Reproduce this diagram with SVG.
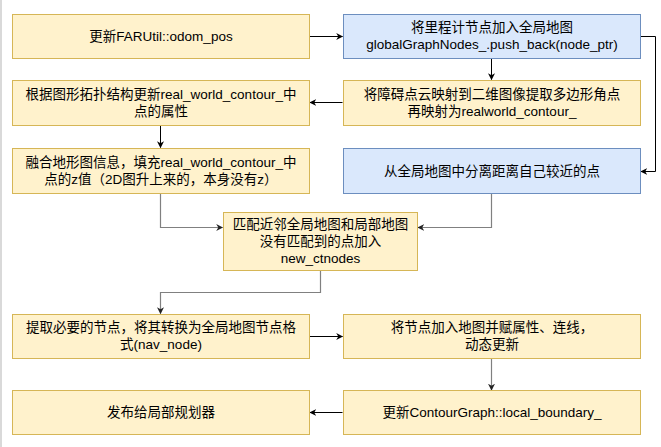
<svg xmlns="http://www.w3.org/2000/svg" width="661" height="447" viewBox="0 0 661 447">
<style>
.y{fill:#fff2cc;stroke:#d6b656;stroke-width:1}
.b{fill:#dae8fc;stroke:#6c8ebf;stroke-width:1}
text{font-family:"Liberation Sans","Noto Sans CJK SC",sans-serif;font-size:13.5px;fill:#000;text-anchor:middle}
.k{fill:none;stroke:#000;stroke-width:1;marker-end:url(#ak)}
.g{fill:none;stroke:#808080;stroke-width:1.2;marker-end:url(#ag)}
</style>
<defs>
<marker id="ak" viewBox="0 0 10 10" refX="9" refY="5" markerWidth="7" markerHeight="7" markerUnits="userSpaceOnUse" orient="auto"><path d="M0,0 L10,5 L0,10 L3,5 Z" fill="#000"/></marker>
<marker id="ag" viewBox="0 0 10 10" refX="9" refY="5" markerWidth="7" markerHeight="7" markerUnits="userSpaceOnUse" orient="auto"><path d="M0,0 L10,5 L0,10 L3,5 Z" fill="#222"/></marker>
</defs>
<rect x="0" y="0" width="661" height="447" fill="#fff"/>
<rect x="0" y="0" width="2" height="447" fill="#d9d9d9"/>
<g id="connectors">
<path class="k" d="M309.5,36.5 H342.5"/>
<path class="k" d="M640.5,36.5 H655.5 V171.5 H641"/>
<path class="k" d="M491.5,58.5 V79.5"/>
<path class="k" d="M342.5,102.5 H310"/>
<path class="k" d="M160.5,125.5 V147.5"/>
<path class="g" d="M160.5,193.5 V227.5 H222.5"/>
<path class="g" d="M491.5,193.5 V227.5 H418"/>
<path class="g" d="M320.5,271 V292.5 H160.5 V313.5"/>
<path class="k" d="M309.5,336.5 H342.5"/>
<path class="g" d="M491.5,359 V390"/>
<path class="k" d="M342.5,412.5 H310"/>
</g>
<g id="n1"><rect class="y" x="12.5" y="14.5" width="297" height="44"/><text x="161" y="41">更新FARUtil::odom_pos</text></g>
<g id="n2"><rect class="b" x="343.5" y="14.5" width="297" height="44"/><text x="492" y="32">将里程计节点加入全局地图</text><text x="492" y="49">globalGraphNodes_.push_back(node_ptr)</text></g>
<g id="n3"><rect class="y" x="12.5" y="80.5" width="297" height="45"/><text x="161" y="98.5">根据图形拓扑结构更新real_world_contour_中</text><text x="161" y="115.5">点的属性</text></g>
<g id="n4"><rect class="y" x="343.5" y="80.5" width="297" height="45"/><text x="492" y="98.5">将障碍点云映射到二维图像提取多边形角点</text><text x="492" y="115.5">再映射为realworld_contour_</text></g>
<g id="n5"><rect class="y" x="12.5" y="148.5" width="297" height="45"/><text x="161" y="166.5">融合地形图信息，填充real_world_contour_中</text><text x="161" y="183.5">点的z值（2D图升上来的，本身没有z）</text></g>
<g id="n6"><rect class="b" x="343.5" y="148.5" width="297" height="45"/><text x="492" y="175.5">从全局地图中分离距离自己较近的点</text></g>
<g id="n7"><rect class="y" x="223.5" y="212.5" width="194" height="58"/><text x="320.5" y="229">匹配近邻全局地图和局部地图</text><text x="320.5" y="246">没有匹配到的点加入</text><text x="320.5" y="263">new_ctnodes</text></g>
<g id="n8"><rect class="y" x="12.5" y="314.5" width="297" height="44"/><text x="161" y="332">提取必要的节点，将其转换为全局地图节点格</text><text x="161" y="349">式(nav_node)</text></g>
<g id="n9"><rect class="y" x="343.5" y="314.5" width="297" height="44"/><text x="492" y="332">将节点加入地图并赋属性、连线，</text><text x="492" y="349">动态更新</text></g>
<g id="n10"><rect class="y" x="12.5" y="390.5" width="297" height="44"/><text x="161" y="417">发布给局部规划器</text></g>
<g id="n11"><rect class="y" x="343.5" y="390.5" width="297" height="44"/><text x="492" y="417">更新ContourGraph::local_boundary_</text></g>
</svg>
